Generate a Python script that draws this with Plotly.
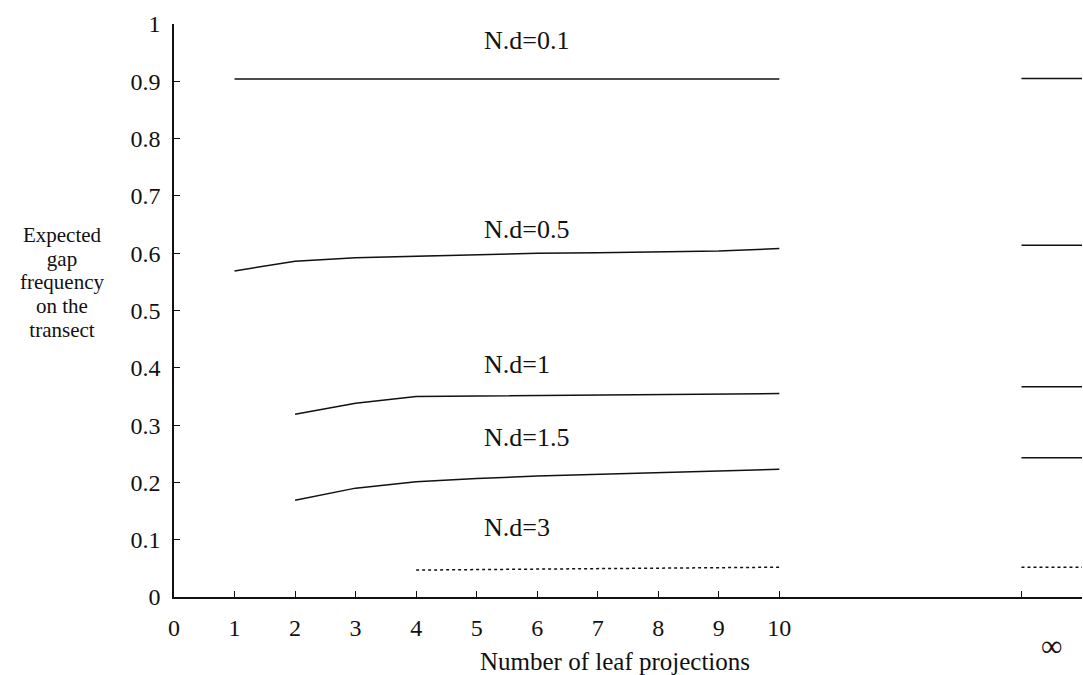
import plotly.graph_objects as go

# Data
projections = [1, 2, 3, 4, 5, 6, 7, 8, 9, 10]
nd_labels = ["N.d=0.1", "N.d=0.5", "N.d=1", "N.d=1.5", "N.d=3"]
x_nd01 = [1, 2, 3, 4, 5, 6, 7, 8, 9, 10]
y_nd01 = [0.904, 0.904, 0.904, 0.904, 0.904, 0.904, 0.904, 0.904, 0.904, 0.904]
x_nd05 = [1, 2, 3, 4, 5, 6, 7, 8, 9, 10]
y_nd05 = [0.569, 0.586, 0.592, 0.595, 0.598, 0.600, 0.601, 0.602, 0.604, 0.608]
x_nd1 = [2, 3, 4, 5, 6, 7, 8, 9, 10]
y_nd1 = [0.319, 0.338, 0.350, 0.351, 0.352, 0.352, 0.353, 0.354, 0.355]
x_nd15 = [2, 3, 4, 5, 6, 7, 8, 9, 10]
y_nd15 = [0.169, 0.190, 0.201, 0.207, 0.211, 0.214, 0.217, 0.220, 0.223]
x_nd3 = [4, 5, 6, 7, 8, 9, 10]
y_nd3 = [0.047, 0.048, 0.049, 0.049, 0.050, 0.051, 0.052]
y_infinity = [0.905, 0.614, 0.367, 0.243, 0.052]
x_ticks = [0, 1, 2, 3, 4, 5, 6, 7, 8, 9, 10, 14, 15]
x_ticktext = ["0", "1", "2", "3", "4", "5", "6", "7", "8", "9", "10", "", ""]
y_ticks = [0, 0.1, 0.2, 0.3, 0.4, 0.5, 0.6, 0.7, 0.8, 0.9, 1]
y_ticktext = ["0", "0.1", "0.2", "0.3", "0.4", "0.5", "0.6", "0.7", "0.8", "0.9", "1"]
y_title_lines = ["Expected", "gap", "frequency", "on the", "transect"]

INF_START, INF_END = 14, 15
FONT = "Liberation Serif"
INK = "#111111"
FS = 24

series = [
    (x_nd01, y_nd01, "solid"),
    (x_nd05, y_nd05, "solid"),
    (x_nd1, y_nd1, "solid"),
    (x_nd15, y_nd15, "solid"),
    (x_nd3, y_nd3, "dot"),
]
label_y = [0.972, 0.642, 0.406, 0.279, 0.122]

fig = go.Figure()
for (xs, ys, dash), yinf, name in zip(series, y_infinity, nd_labels):
    fig.add_trace(go.Scatter(x=xs, y=ys, mode="lines", name=name,
                             line=dict(color=INK, width=1.5, dash=dash),
                             showlegend=False))
    fig.add_trace(go.Scatter(x=[INF_START, INF_END], y=[yinf, yinf], mode="lines",
                             line=dict(color=INK, width=1.5, dash=dash),
                             showlegend=False))

annotations = []
for name, ly in zip(nd_labels, label_y):
    annotations.append(dict(x=5.09, y=ly, xref="x", yref="y", text=name,
                            showarrow=False, xanchor="left", yanchor="middle",
                            font=dict(family=FONT, size=26, color=INK)))
annotations.append(dict(x=14.5, y=-0.085, xref="x", yref="paper", text="∞",
                        showarrow=False, xanchor="center", yanchor="middle",
                        font=dict(family=FONT, size=30, color=INK)))
annotations.append(dict(x=7.29, y=-0.113, xref="x", yref="paper",
                        text="Number of leaf projections",
                        showarrow=False, xanchor="center", yanchor="middle",
                        font=dict(family=FONT, size=25, color=INK)))
# y-axis title: fairly tight line spacing (base font sets the line pitch,
# each line is rendered larger through an inline span)
title_text = "<br>".join(
    '<span style="font-size:21px">%s</span>' % line for line in y_title_lines)
annotations.append(dict(x=(62 - 174) / 908, y=(596.7 - 282) / 572.6,
                        xref="paper", yref="y", text=title_text,
                        showarrow=False, xanchor="center", yanchor="middle",
                        align="center",
                        font=dict(family=FONT, size=18.2, color=INK)))

fig.update_layout(
    width=1083, height=675,
    margin=dict(l=174, r=1, t=24, b=78),
    paper_bgcolor="white", plot_bgcolor="white",
    annotations=annotations,
    xaxis=dict(range=[0, 15], tickvals=x_ticks, ticktext=x_ticktext,
               showgrid=False, zeroline=False, showline=True, linecolor=INK,
               linewidth=1.5, ticks="inside", ticklen=6, tickwidth=1.2,
               tickcolor=INK, ticklabelstandoff=8,
               tickfont=dict(family=FONT, size=FS, color=INK)),
    yaxis=dict(range=[0, 1], tickvals=y_ticks, ticktext=y_ticktext,
               showgrid=False, zeroline=False, showline=True, linecolor=INK,
               linewidth=1.5, ticks="inside", ticklen=6, tickwidth=1.2,
               tickcolor=INK, ticklabelstandoff=7,
               tickfont=dict(family=FONT, size=FS, color=INK)),
)

fig.write_html("out.html")
